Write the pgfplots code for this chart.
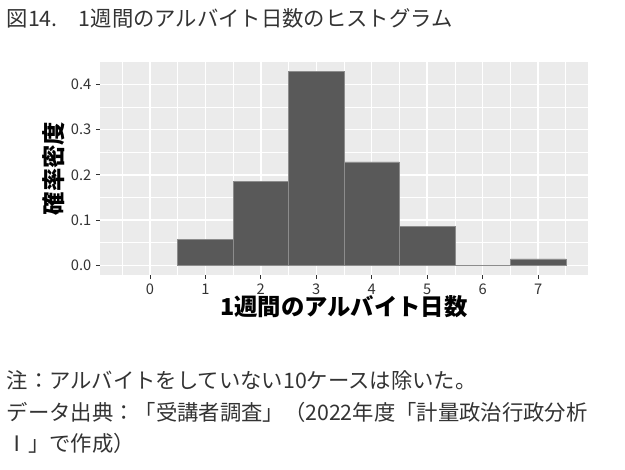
\documentclass[border=0pt]{standalone}
\usepackage{pgfplots}
\pgfplotsset{compat=1.18}
\usepackage{fontspec}
\setmainfont{Noto Sans CJK JP}
\definecolor{panel}{HTML}{EBEBEB}
\definecolor{barc}{HTML}{595959}
\definecolor{tickc}{HTML}{333333}
\begin{document}
\begin{tikzpicture}[x=0.75pt,y=0.75pt]
\path (0,0) rectangle (625,469);
\node[anchor=west,font=\fontsize{16pt}{18pt}\selectfont,text=black!80] at (2,451) {図14.\quad 1週間のアルバイト日数のヒストグラム};
\begin{axis}[at={(100pt*0.75,194pt*0.75)},anchor=south west,
 scale only axis,width=366pt,height=160pt,
 xmin=-0.9,xmax=7.9,ymin=-0.0214,ymax=0.4503,
 axis background/.style={fill=panel},axis line style={draw=none},
 xtick={0,...,7},ytick={0,0.1,0.2,0.3,0.4},
 minor xtick={-0.5,0.5,...,7.5},minor ytick={0.05,0.15,0.25,0.35},
 grid=both,major grid style={white,line width=1.1pt},minor grid style={white,line width=0.55pt},
 tick style={tickc,line width=0.6pt},major tick length=3pt,tick align=outside,
 minor tick length=0pt,xtick pos=bottom,ytick pos=left,
 yticklabel style={/pgf/number format/.cd,fixed,fixed zerofill,precision=1},
 /pgf/number format/assume math mode=true,
 ticklabel style={font=\fontsize{11pt}{13pt}\selectfont,text=tickc},
 xlabel={\textbf{1週間のアルバイト日数}},ylabel={\textbf{確率密度}},
 label style={font=\fontsize{17.5pt}{19pt}\selectfont},
 xlabel style={yshift=6pt},ylabel style={yshift=-2pt}]
\addplot[ybar interval,fill=barc,draw=black!45,line width=0.3pt] coordinates {(0.5,0.0571)(1.5,0.1857)(2.5,0.4286)(3.5,0.2286)(4.5,0.0857)(5.5,0)(6.5,0.0143)(7.5,0.0143)};
\end{axis}
\node[anchor=west,font=\fontsize{16pt}{18pt}\selectfont,text=black!80] at (2,89) {注：アルバイトをしていない10ケースは除いた。};
\node[anchor=west,font=\fontsize{16pt}{18pt}\selectfont,text=black!80] at (2,57) {データ出典：「受講者調査」（2022年度「計量政治行政分析};
\node[anchor=west,font=\fontsize{16pt}{18pt}\selectfont,text=black!80] at (2,26) {Ⅰ」で作成）};
\end{tikzpicture}
\end{document}
